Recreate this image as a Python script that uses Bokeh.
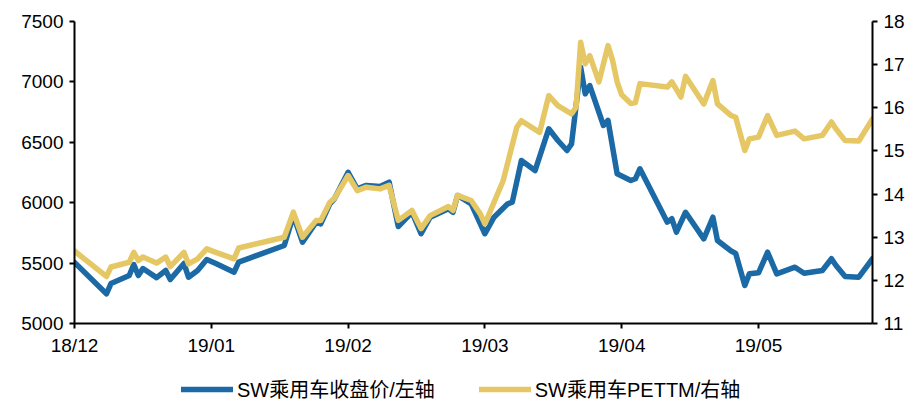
from bokeh.plotting import figure
from bokeh.layouts import column
from bokeh.models import (Range1d, LinearAxis, FixedTicker, Legend, LegendItem)
from bokeh.embed import file_html
from bokeh.resources import INLINE

# Trading-day offsets from 2018-12-01 (one label every 30 days)
price_days = [0, 7, 8, 12, 13, 14, 15, 18, 20, 21, 24, 25, 27, 29, 31, 35, 36,
              46, 48, 50, 53, 54, 56, 57, 60, 62, 64, 67, 69, 71, 74, 76, 78,
              82, 83, 84, 87, 89, 90, 92, 95, 96, 98, 101, 104, 106, 108, 109,
              111, 112, 113, 116, 117, 119, 122, 123, 124, 130, 131, 132, 134,
              138, 140, 141, 144, 145, 147, 148, 150, 152, 154, 158, 160, 164,
              166, 167, 169, 172, 175]
# SW passenger-car index close (left axis)
price = [5505, 5246, 5331, 5397, 5488, 5397, 5455, 5380, 5439, 5364, 5497, 5383,
         5439, 5530, 5497, 5425, 5508,
         5646, 5894, 5673, 5839, 5825, 5991, 6032, 6252, 6115, 6143, 6134, 6170,
         5803, 5921, 5743, 5880,
         5950, 5921, 6060, 5991, 5825, 5743, 5880, 5991, 6004, 6349, 6266, 6612,
         6515, 6432, 6487,
         7122, 6901, 6970, 6639, 6681, 6239, 6184, 6198, 6281, 5839, 5867, 5756,
         5921,
         5701, 5880, 5687, 5600, 5580, 5315, 5411, 5420, 5590, 5411, 5466, 5416,
         5439,
         5536, 5480, 5389, 5383, 5536]

pe_days = [0, 7, 8, 12, 13, 14, 15, 18, 20, 21, 24, 25, 27, 29, 31, 35, 36,
           46, 48, 50, 53, 54, 56, 57, 60, 62, 64, 67, 69, 71, 74, 76, 78,
           82, 83, 84, 87, 89, 90, 94, 97, 98, 102, 104, 106, 109, 110,
           111, 112, 113, 115, 117, 118, 119, 120, 122, 123, 124, 130, 131, 133,
           134, 138, 140, 141, 144, 145, 147, 148, 150, 152, 154, 158, 160, 164,
           166, 167, 169, 172, 175]
# SW passenger-car PE (TTM), right axis
pe = [12.68, 12.09, 12.31, 12.42, 12.65, 12.46, 12.54, 12.40, 12.54, 12.32, 12.65,
      12.38, 12.50, 12.73, 12.65, 12.50, 12.75,
      13.00, 13.58, 13.00, 13.39, 13.39, 13.81, 13.90, 14.43, 14.08, 14.16, 14.12,
      14.20, 13.39, 13.62, 13.20, 13.50,
      13.71, 13.62, 13.97, 13.85, 13.54, 13.31, 14.31, 15.55, 15.70, 15.43, 16.28,
      16.05, 15.86, 16.02,
      17.52, 17.02, 17.21, 16.60, 17.44, 17.10, 16.60, 16.30, 16.10, 16.12, 16.56,
      16.48, 16.60, 16.25,
      16.73, 16.09, 16.63, 16.09, 15.82, 15.78, 15.01, 15.28, 15.32, 15.82, 15.36,
      15.46, 15.28, 15.36,
      15.67, 15.51, 15.24, 15.23, 15.74]

month_ticks = [0, 30, 60, 90, 120, 150]
month_labels = ["18/12", "19/01", "19/02", "19/03", "19/04", "19/05"]

left_ticks = [5000, 5500, 6000, 6500, 7000, 7500]
right_ticks = [11, 12, 13, 14, 15, 16, 17, 18]

series_names = ["SW乘用车收盘价/左轴", "SW乘用车PETTM/右轴"]

BLUE = "#1b6aa6"
GOLD = "#e5c865"
FONT = "Liberation Sans"
LINE_W = 5.5

p = figure(width=923, height=365, output_backend="svg", toolbar_location=None,
           x_range=Range1d(0, 175), y_range=Range1d(5000, 7500),
           min_border_left=74, min_border_right=51, min_border_top=21,
           min_border_bottom=42)
p.extra_y_ranges = {"pe": Range1d(11, 18)}
p.outline_line_color = None
p.grid.visible = False
p.background_fill_color = "white"
p.border_fill_color = "white"

p.line(price_days, price, line_color=BLUE, line_width=LINE_W,
       line_join="round", line_cap="round")
p.line(pe_days, pe, line_color=GOLD, line_width=LINE_W,
       line_join="round", line_cap="round", y_range_name="pe")

def style_axis(ax):
    ax.axis_line_color = "black"
    ax.axis_line_width = 2
    ax.major_tick_line_color = "black"
    ax.major_tick_line_width = 2
    ax.major_tick_in = 0
    ax.major_tick_out = 5
    ax.minor_tick_line_color = None
    ax.major_label_text_font = FONT
    ax.major_label_text_font_size = "19px"
    ax.major_label_text_color = "black"
    ax.major_label_standoff = 6

xa = p.xaxis[0]
xa.ticker = FixedTicker(ticks=month_ticks)
xa.major_label_overrides = {t: s for t, s in zip(month_ticks, month_labels)}
style_axis(xa)

ya = p.yaxis[0]
ya.ticker = FixedTicker(ticks=left_ticks)
style_axis(ya)

ra = LinearAxis(y_range_name="pe", ticker=FixedTicker(ticks=right_ticks))
style_axis(ra)
p.add_layout(ra, "right")

# Legend strip under the chart; its swatch lines sit outside the visible range
lg = figure(width=923, height=38, output_backend="svg", toolbar_location=None,
            x_range=Range1d(0, 1), y_range=Range1d(0, 1),
            x_axis_type=None, y_axis_type=None,
            min_border_left=0, min_border_right=0, min_border_top=0,
            min_border_bottom=0)
lg.outline_line_color = None
lg.grid.visible = False
lg_price = lg.line(x=[-9, -8], y=[-9, -8], line_color=BLUE, line_width=LINE_W,
                   line_cap="round")
lg_pe = lg.line(x=[-9, -8], y=[-9, -8], line_color=GOLD, line_width=LINE_W,
                line_cap="round")

legend = Legend(items=[
    LegendItem(label=series_names[0], renderers=[lg_price]),
    LegendItem(label=series_names[1], renderers=[lg_pe]),
], orientation="horizontal", location=(107, 0))
legend.label_text_font = "Liberation Sans, Noto Sans CJK SC"
legend.label_text_font_size = "20px"
legend.label_text_color = "black"
legend.glyph_width = 52
legend.label_standoff = 4
legend.spacing = 44
legend.border_line_color = None
legend.background_fill_alpha = 0
legend.margin = 0
legend.padding = 0
lg.add_layout(legend)

layout = column(p, lg, spacing=0)
open("out.html", "w").write(file_html(layout, INLINE))
